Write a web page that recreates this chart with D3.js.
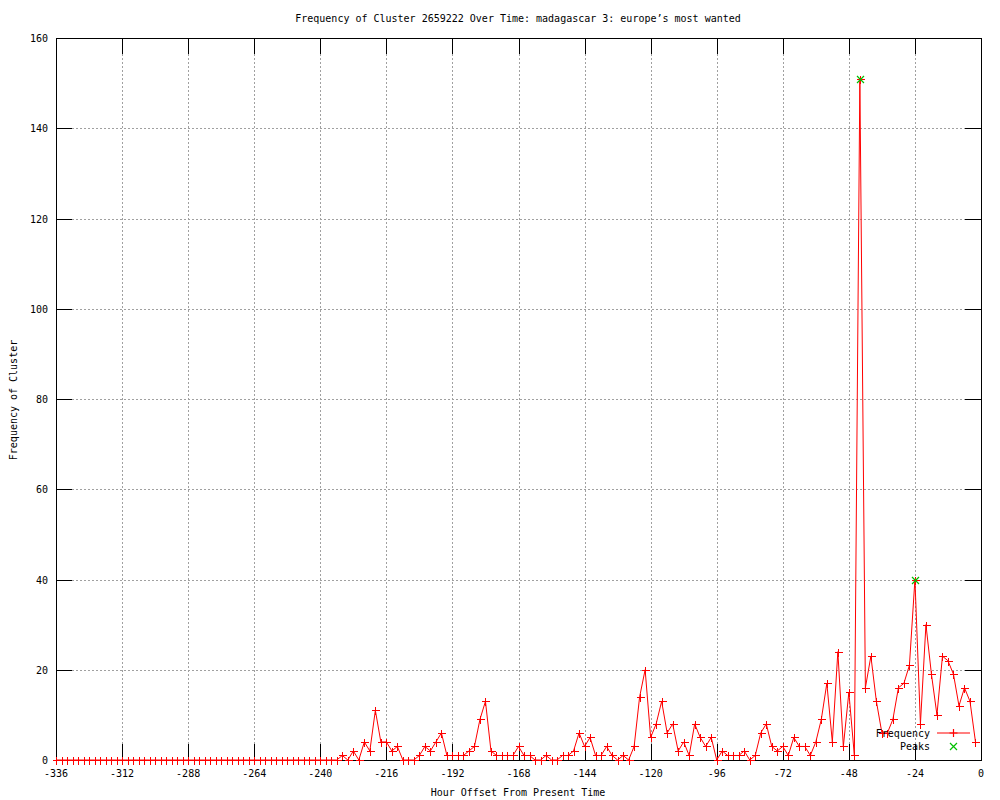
<!DOCTYPE html>
<html>
<head>
<meta charset="utf-8">
<script src="https://cdn.jsdelivr.net/npm/d3@7"></script>
<style>
  body { margin: 0; background: #fff; }
  text { font-family: "DejaVu Sans Mono", monospace; font-size: 10px; fill: #000; }
</style>
</head>
<body>
<div id="chart"></div>
<script>
'use strict';

// hour offsets: every 2 hours from -336 to -2
const hours = d3.range(-336, 0, 2);

// frequency per 2h bucket (first 48 buckets are empty)
const frequency = [
  0,0,0,0,0,0,0,0,0,0, 0,0,0,0,0,0,0,0,0,0,
  0,0,0,0,0,0,0,0,0,0, 0,0,0,0,0,0,0,0,0,0,
  0,0,0,0,0,0,0,0,
  0,0,0,0,1,0,2,0,4,2,
  11,4,4,2,3,0,0,0,1,3,
  2,4,6,1,1,1,1,2,3,9,
  13,2,1,1,1,1,3,1,1,0,
  0,1,0,0,1,1,2,6,3,5,
  1,1,3,1,0,1,0,3,14,20,
  5,8,13,6,8,2,4,1,8,5,
  3,5,0,2,1,1,1,2,0,1,
  6,8,3,2,3,1,5,3,3,1,
  4,9,17,4,24,3,15,1,151,16,
  23,13,6,6,9,16,17,21,40,8,
  30,19,10,23,22,19,12,16,13,4
];

const peakHours = [-44, -24];
const peakValues = [151, 40];

const xTicks = d3.range(-336, 1, 24);
const yTicks = d3.range(0, 161, 20);

const title = 'Frequency of Cluster 2659222 Over Time: madagascar 3: europe\u2019s most wanted';
const xTitle = 'Hour Offset From Present Time';
const yTitle = 'Frequency of Cluster';

const width  = 1000;
const height = 800;
const plotLeft = 56, plotRight = 981, plotTop = 38, plotBottom = 760;
const tickLen = 16;
const redColor = 'rgb(255,0,0)', greenColor = 'rgb(0,192,0)';

const x = d3.scaleLinear().domain([-336, 0]).range([plotLeft, plotRight]);
const y = d3.scaleLinear().domain([0, 160]).range([plotBottom, plotTop]);

const svg = d3.select('#chart').append('svg')
    .attr('width', width)
    .attr('height', height);

// grid (dotted grey), skip the lines that sit on the border
const grid = svg.append('g').attr('shape-rendering', 'crispEdges')
    .style('stroke', '#a0a0a0').style('stroke-dasharray', '2,2');
grid.selectAll('line.vx')
    .data(xTicks.filter(d => d > -336 && d < 0))
    .enter().append('line')
    .attr('class', 'vx')
    .attr('x1', d => Math.round(x(d)) + 0.5).attr('x2', d => Math.round(x(d)) + 0.5)
    .attr('y1', plotTop).attr('y2', plotBottom);
grid.selectAll('line.hy')
    .data(yTicks.filter(d => d > 0 && d < 160))
    .enter().append('line')
    .attr('class', 'hy')
    .attr('y1', d => Math.round(y(d)) + 0.5).attr('y2', d => Math.round(y(d)) + 0.5)
    .attr('x1', plotLeft).attr('x2', plotRight);

// inward ticks on all four sides
const ticks = svg.append('g').style('stroke', '#000').attr('shape-rendering', 'crispEdges');
xTicks.forEach(function(d) {
    let px = Math.round(x(d)) + 0.5;
    ticks.append('line').attr('x1', px).attr('x2', px).attr('y1', plotBottom).attr('y2', plotBottom - tickLen);
    ticks.append('line').attr('x1', px).attr('x2', px).attr('y1', plotTop).attr('y2', plotTop + tickLen);
});
yTicks.forEach(function(d) {
    let py = Math.round(y(d)) + 0.5;
    ticks.append('line').attr('y1', py).attr('y2', py).attr('x1', plotLeft).attr('x2', plotLeft + tickLen);
    ticks.append('line').attr('y1', py).attr('y2', py).attr('x1', plotRight).attr('x2', plotRight - tickLen);
});

// tick labels
svg.append('g').selectAll('text')
    .data(xTicks)
    .enter().append('text')
    .attr('x', d => x(d))
    .attr('y', plotBottom + 17)
    .attr('text-anchor', 'middle')
    .text(d => d);
svg.append('g').selectAll('text')
    .data(yTicks)
    .enter().append('text')
    .attr('x', plotLeft - 8)
    .attr('y', d => y(d) + 4)
    .attr('text-anchor', 'end')
    .text(d => d);

// border
svg.append('rect')
    .attr('x', plotLeft + 0.5).attr('y', plotTop + 0.5)
    .attr('width', plotRight - plotLeft).attr('height', plotBottom - plotTop)
    .style('fill', 'none').style('stroke', '#000').attr('shape-rendering', 'crispEdges');

// series line + "+" markers
const points = hours.map((h, i) => ({h: h, v: frequency[i]}));
const line = d3.line().x(d => x(d.h)).y(d => y(d.v));

svg.append('path')
    .datum(points)
    .attr('d', line)
    .style('fill', 'none')
    .style('stroke', redColor)
    .style('stroke-width', 1);

const plus = function(cx, cy, r) {
    return 'M' + (cx - r) + ',' + cy + 'H' + (cx + r) + 'M' + cx + ',' + (cy - r) + 'V' + (cy + r);
};
const cross = function(cx, cy, r) {
    return 'M' + (cx - r) + ',' + (cy - r) + 'L' + (cx + r) + ',' + (cy + r) +
           'M' + (cx - r) + ',' + (cy + r) + 'L' + (cx + r) + ',' + (cy - r);
};

svg.append('g').attr('shape-rendering', 'crispEdges').selectAll('path')
    .data(points)
    .enter().append('path')
    .attr('d', d => plus(Math.round(x(d.h)) + 0.5, Math.round(y(d.v)) + 0.5, 4))
    .style('stroke', redColor)
    .style('fill', 'none');

// peaks (green x on top of the red markers)
svg.append('g').selectAll('path')
    .data(peakHours)
    .enter().append('path')
    .attr('d', (d, i) => cross(Math.round(x(d)) + 0.5, Math.round(y(peakValues[i])) + 0.5, 3.5))
    .style('stroke', greenColor)
    .style('stroke-width', 1.2)
    .style('fill', 'none');

// legend
const key = svg.append('g');
key.append('text').attr('x', 930).attr('y', 737).attr('text-anchor', 'end').text('Frequency');
key.append('line')
    .attr('x1', 937).attr('x2', 970).attr('y1', 733).attr('y2', 733)
    .style('stroke', redColor).style('stroke-width', 1.2);
key.append('path').attr('d', plus(953.5, 733, 4))
    .style('stroke', redColor).style('stroke-width', 1.2).style('fill', 'none');
key.append('text').attr('x', 930).attr('y', 750).attr('text-anchor', 'end').text('Peaks');
key.append('path').attr('d', cross(953.5, 746.5, 3.5))
    .style('stroke', greenColor).style('stroke-width', 1.2).style('fill', 'none');

// titles
svg.append('text').attr('x', 518).attr('y', 22).attr('text-anchor', 'middle').text(title);
svg.append('text').attr('x', 518).attr('y', 796).attr('text-anchor', 'middle').text(xTitle);
svg.append('text')
    .attr('transform', 'translate(17,400) rotate(-90)')
    .attr('text-anchor', 'middle')
    .text(yTitle);
</script>
</body>
</html>
